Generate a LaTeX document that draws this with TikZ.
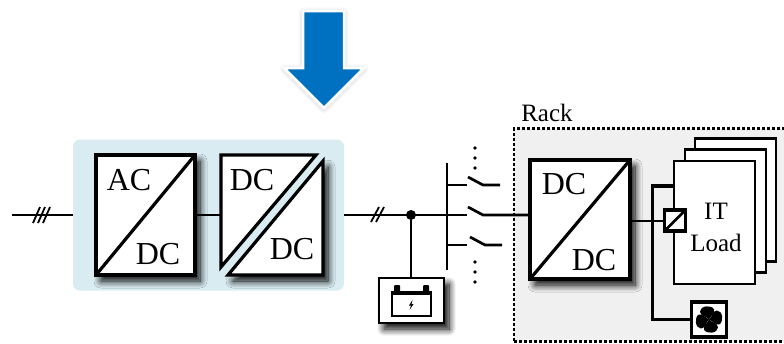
\documentclass[tikz,border=0pt]{standalone}
\usepackage{fontspec}
\setmainfont{Liberation Serif}
\usepackage{xcolor}
\usetikzlibrary{shadows.blur}
\definecolor{b1}{HTML}{0070C0}
\definecolor{p1}{HTML}{D9ECF2}
\definecolor{g1}{HTML}{F0F0F0}
\tikzset{
	wire/.style = {line width=2.7pt},
	softshadow/.style = {blur shadow={shadow xshift=5pt,shadow yshift=-6pt,shadow blur radius=7pt,shadow blur steps=10,shadow opacity=100}},
	conv/.style = {draw,fill=white,line width=3.2pt,outer sep=0pt,inner sep=0pt,softshadow},
	lbl/.style = {inner sep=0pt,font=\fontsize{32}{32}\selectfont},
	lblsmall/.style = {inner sep=0pt,font=\fontsize{25}{25}\selectfont},
	card/.style = {draw,fill=white,line width=2.6pt,outer sep=0pt,inner sep=0pt,minimum width=81pt,minimum height=123pt},
}
\begin{document}
\begin{tikzpicture}[x=1pt,y=-1pt]
	\useasboundingbox (0,0) rectangle (784,343);
	% arrow
	\draw [fill=b1,draw=white,line width=2.5pt,line join=miter,blur shadow={shadow xshift=0pt,shadow yshift=-1pt,shadow blur radius=5pt,shadow blur steps=6,shadow opacity=25}]
		(303,11) -- (344,11) -- (344,68) -- (364,68) -- (324,108) -- (284,68) -- (303,68) -- cycle;
	% converters
	\node [fill=p1,rounded corners=7pt,minimum width=271pt,minimum height=151pt,inner sep=0pt,outer sep=0pt] (panel) at (208.5,215) {};
	\node [conv,minimum width=99pt,minimum height=120pt] (acdc) at (145.5,215) {};
	\draw [line width=3.2pt] (acdc.south west) -- (acdc.north east);
	\node [lbl] (ac) at (129,180) {AC};
	\node [lbl] (dc1) at (158,254) {DC};
	\coordinate (dda) at (221,155);
	\coordinate (ddb) at (316,155);
	\coordinate (ddc) at (221,267);
	\coordinate (ddd) at (323,161);
	\coordinate (dde) at (323,275);
	\coordinate (ddf) at (228,275);
	\coordinate (ddw) at (221,215);
	\draw [fill=white,line width=3.2pt,line join=miter,softshadow] (ddd) -- (dde) -- (ddf) -- cycle;
	\draw [fill=white,line width=3.2pt,line join=miter] (dda) -- (ddb) -- (ddc) -- cycle;
	\node [lbl] (dc2) at (252,180) {DC};
	\node [lbl] (dc3) at (292,249) {DC};
	% lines
	\coordinate (linein) at (12,215);
	\coordinate (bust) at (447,163);
	\coordinate (busb) at (447,270);
	\coordinate (busm) at (447,215);
	\draw [wire] (linein) -- (panel.west);
	\draw [wire] (acdc.east) -- (ddw);
	\draw [wire] (panel.east) -- (busm);
	\draw [line width=1.8pt] (33,223) -- (40,207);
	\draw [line width=1.8pt] (38,223) -- (45,207);
	\draw [line width=1.8pt] (43,223) -- (50,207);
	\draw [line width=1.8pt] (371,222) -- (379,207);
	\draw [line width=1.8pt] (376,222) -- (384,207);
	\draw [wire] (bust) -- (busb);
	% battery
	\node [draw,fill=white,line width=2.2pt,minimum width=65pt,minimum height=45pt,inner sep=0pt,outer sep=0pt,softshadow] (batt) at (411.5,300.5) {};
	\node [circle,fill=black,minimum size=10pt,inner sep=0pt] (tap) at (411,215) {};
	\draw [wire] (tap) -- (tap |- batt.north);
	\draw [line width=1.5pt] (392,293) rectangle (431,316);
	\fill (391,291) rectangle (432,294.5);
	\fill [rounded corners=1pt] (394,285) rectangle (400,292);
	\fill [rounded corners=1pt] (423,285) rectangle (429,292);
	\fill (412.5,300) -- (409,305.5) -- (411,305.5) -- (409.5,310) -- (413.5,304) -- (411.5,304) -- cycle;
	% rack
	\node [draw,fill=g1,dash pattern=on 3pt off 2pt,line width=2.4pt,minimum width=274pt,minimum height=213pt,inner sep=0pt,outer sep=0pt] (rack) at (651,235) {};
	\node [lblsmall] (racktxt) at (547,113) {Rack};
	% switches
	\coordinate (sa) at (467,185);
	\coordinate (sb) at (467,215);
	\coordinate (sc) at (467,245);
	\draw [wire] (bust |- sa) -- (sa);
	\draw [wire] (busm) -- (sb);
	\draw [wire] (busb |- sc) -- (sc);
	\draw [wire] (468,177) -- (483,185) -- (500,185);
	\draw [wire] (470,237) -- (485,245) -- (502,245);
	\foreach \y in {148,158,168,262,272,282}
		\fill (475,\y) circle (1.8);
	% rack converter
	\node [conv,minimum width=100pt,minimum height=119pt] (rdc) at (580,219.5) {};
	\draw [line width=3.2pt] (rdc.south west) -- (rdc.north east);
	\node [lbl] (dc4) at (564,184) {DC};
	\node [lbl] (dc5) at (594,260) {DC};
	\draw [wire] (468,207) -- (483,215) -- (rdc.west |- 0,215);
	% IT load
	\node [card] (cardc) at (735.5,200) {};
	\node [card] (cardb) at (725.5,211) {};
	\node [card] (carda) at (714.5,222.5) {};
	\node [lblsmall] (it) at (716,211) {IT};
	\node [lblsmall] (load) at (716,243) {Load};
	\coordinate (feedtop) at (652.5,186);
	\draw [line width=3.2pt,line join=miter] (carda.west |- feedtop) -- (feedtop) -- (feedtop |- 0,319.5) -- (691,319.5);
	\draw [line width=2pt] (rdc.east |- 0,220.5) -- (664,220.5);
	\node [draw,fill=white,line width=3.2pt,minimum width=21pt,minimum height=21pt,inner sep=0pt,outer sep=0pt] (small) at (675,220.5) {};
	\draw [line width=2.6pt] (small.south west) -- (small.north east);
	% fan
	\node [draw,fill=white,line width=3.2pt,minimum width=35pt,minimum height=35pt,inner sep=0pt,outer sep=0pt] (fan) at (709,319.5) {};
	\foreach \a in {0,90,180,270}
		\fill [shift={(fan.center)},rotate=\a] (0,0) .. controls (-2,-3) and (-9,-3) .. (-9,-8) .. controls (-9,-14) and (3,-15) .. (5,-10) .. controls (6,-7) and (2,-4) .. (0,0);
\end{tikzpicture}
\end{document}
